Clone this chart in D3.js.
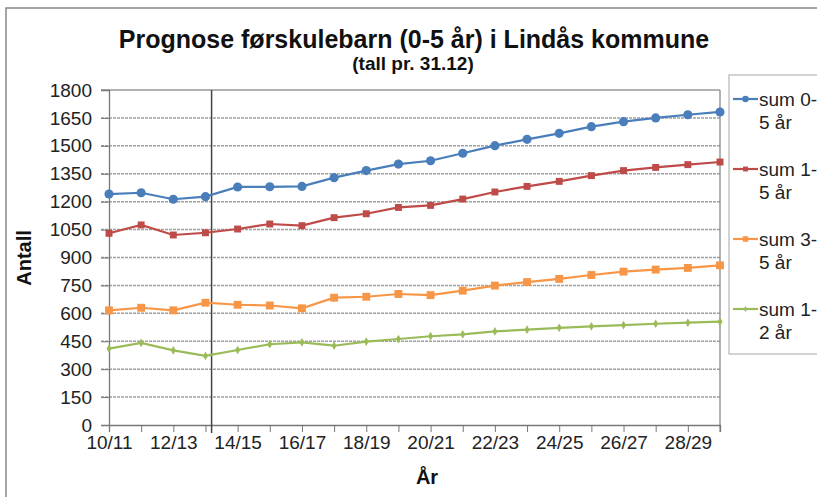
<!DOCTYPE html>
<html>
<head>
<meta charset="utf-8">
<script src="https://cdn.jsdelivr.net/npm/d3@7"></script>
<style>
  body { margin: 0; background: #fff; }
  text { font-family: "Liberation Sans", Arial, sans-serif; fill: #111; }
</style>
</head>
<body>
<svg id="chart"></svg>
<script>
// categories (school years)
var years = ["10/11","11/12","12/13","13/14","14/15","15/16","16/17","17/18","18/19","19/20",
             "20/21","21/22","22/23","23/24","24/25","25/26","26/27","27/28","28/29","29/30"];

// series values
var sum05 = [1241,1248,1213,1227,1279,1280,1282,1329,1367,1402,1420,1460,1501,1535,1567,1603,1630,1650,1667,1682];
var sum15 = [1030,1075,1021,1033,1053,1080,1071,1114,1135,1169,1180,1214,1252,1282,1309,1340,1367,1384,1399,1413];
var sum35 = [616,630,616,657,646,642,627,684,689,704,698,722,749,768,785,806,824,835,844,858];
var sum12 = [410,441,401,371,403,434,444,426,448,462,477,487,503,512,522,530,537,544,550,555];

var yTicks = [0,150,300,450,600,750,900,1050,1200,1350,1500,1650,1800];
var xLabels = ["10/11","12/13","14/15","16/17","18/19","20/21","22/23","24/25","26/27","28/29"];

var series = [
  {name:["sum 0-","5 år"], values:sum05, color:"#4a7ebb", marker:"circle"},
  {name:["sum 1-","5 år"], values:sum15, color:"#be4b48", marker:"square"},
  {name:["sum 3-","5 år"], values:sum35, color:"#f79646", marker:"square"},
  {name:["sum 1-","2 år"], values:sum12, color:"#9bbb59", marker:"diamond"}
];

var W = 817, H = 497;
var margin = {left:109, right:97, top:90, bottom:72};

var svg = d3.select("#chart").attr("width",W).attr("height",H);

// outer frame
svg.append("rect")
   .attr("x",6).attr("y",8).attr("width",W+10).attr("height",H+10)
   .attr("fill","none").attr("stroke","#888").attr("stroke-width",1.5);

var x = d3.scalePoint().domain(years).range([margin.left, W-margin.right]);
var y = d3.scaleLinear().domain([0,1800]).range([H-margin.bottom, margin.top]);

// gridlines
svg.append("g").selectAll("line")
   .data(yTicks.filter(function(d){return d>0 && d<1800;}))
   .enter().append("line")
   .attr("x1",margin.left-8).attr("x2",W-margin.right)
   .attr("y1",function(d){return y(d);}).attr("y2",function(d){return y(d);})
   .attr("stroke","#a0a0a0").attr("stroke-width",1.5).attr("stroke-dasharray","3,1");

// plot border (top, right)
svg.append("line").attr("x1",margin.left-8).attr("x2",W-margin.right)
   .attr("y1",y(1800)).attr("y2",y(1800)).attr("stroke","#999").attr("stroke-width",1.3);
svg.append("line").attr("x1",W-margin.right).attr("x2",W-margin.right)
   .attr("y1",y(1800)).attr("y2",y(0)).attr("stroke","#888").attr("stroke-width",1.3);

// y axis
var yAxis = svg.append("g")
   .attr("transform","translate("+margin.left+",0)")
   .call(d3.axisLeft(y).tickValues(yTicks).tickFormat(d3.format("d")).tickSize(8).tickPadding(9));
yAxis.selectAll("text").style("font-size","19px").style("fill","#222");
yAxis.selectAll("line").attr("stroke","#777");
yAxis.select(".domain").attr("stroke","#777").attr("stroke-width",1.3);

// x axis
var xAxis = svg.append("g")
   .attr("transform","translate(0,"+y(0)+")")
   .call(d3.axisBottom(x).tickSize(7).tickPadding(4)
          .tickFormat(function(d){return xLabels.indexOf(d)>=0 ? d : "";}));
xAxis.selectAll("text").style("font-size","19px").style("fill","#222");
xAxis.selectAll("line").attr("stroke","#777");
xAxis.select(".domain").attr("stroke","#777").attr("stroke-width",1.3);
// closing tick at right edge
xAxis.append("line").attr("x1",W-margin.right).attr("x2",W-margin.right)
     .attr("y1",0).attr("y2",7).attr("stroke","#777");

// vertical divider between 13/14 and 14/15
var divX = x("13/14") + 0.19*x.step();
svg.append("line").attr("x1",divX).attr("x2",divX)
   .attr("y1",y(1800)).attr("y2",y(0)+8)
   .attr("stroke","#444").attr("stroke-width",1.5);

// lines + markers
var line = d3.line()
   .x(function(d,i){return x(years[i]);})
   .y(function(d){return y(d);});

var symbolFor = {circle:d3.symbolCircle, square:d3.symbolSquare, diamond:d3.symbolDiamond};
var sizeFor = {circle:66, square:48, diamond:22};

series.forEach(function(s,k){
  var g = svg.append("g");
  g.append("path").datum(s.values)
   .attr("d",line).attr("fill","none")
   .attr("stroke",s.color).attr("stroke-width",2.2);
  var sz = (k==2) ? 62 : sizeFor[s.marker];
  g.selectAll("path.m").data(s.values).enter().append("path")
   .attr("class","m")
   .attr("d",d3.symbol().type(symbolFor[s.marker]).size(sz))
   .attr("transform",function(d,i){return "translate("+x(years[i])+","+y(d)+")";})
   .attr("fill",s.color);
});

// titles
svg.append("text").attr("x",414).attr("y",48).attr("text-anchor","middle")
   .style("font-size","25px").style("font-weight","bold")
   .text("Prognose førskulebarn (0-5 år) i Lindås kommune");
svg.append("text").attr("x",413).attr("y",70).attr("text-anchor","middle")
   .style("font-size","19px").style("font-weight","bold")
   .text("(tall pr. 31.12)");

svg.append("text").attr("transform","translate(31,258) rotate(-90)")
   .attr("text-anchor","middle")
   .style("font-size","20px").style("font-weight","bold").text("Antall");
svg.append("text").attr("x",427).attr("y",484).attr("text-anchor","middle")
   .style("font-size","20px").style("font-weight","bold").text("År");

// legend
var lg = svg.append("g");
lg.append("rect").attr("x",729).attr("y",75).attr("width",100).attr("height",279)
  .attr("fill","#fff").attr("stroke","#bbb").attr("stroke-width",1.3);
series.forEach(function(s,k){
  var ly = 99 + k*70;
  lg.append("line").attr("x1",733).attr("x2",758).attr("y1",ly).attr("y2",ly)
    .attr("stroke",s.color).attr("stroke-width",2.2);
  var sz = (k==2) ? 30 : sizeFor[s.marker]*0.5;
  lg.append("path").attr("d",d3.symbol().type(symbolFor[s.marker]).size(sz))
    .attr("transform","translate(745.5,"+ly+")").attr("fill",s.color);
  var t = lg.append("text").attr("x",759).attr("y",ly+7).style("font-size","19px").style("fill","#222");
  t.append("tspan").attr("x",759).text(s.name[0]);
  t.append("tspan").attr("x",759).attr("dy",23).text(s.name[1]);
});
</script>
</body>
</html>
